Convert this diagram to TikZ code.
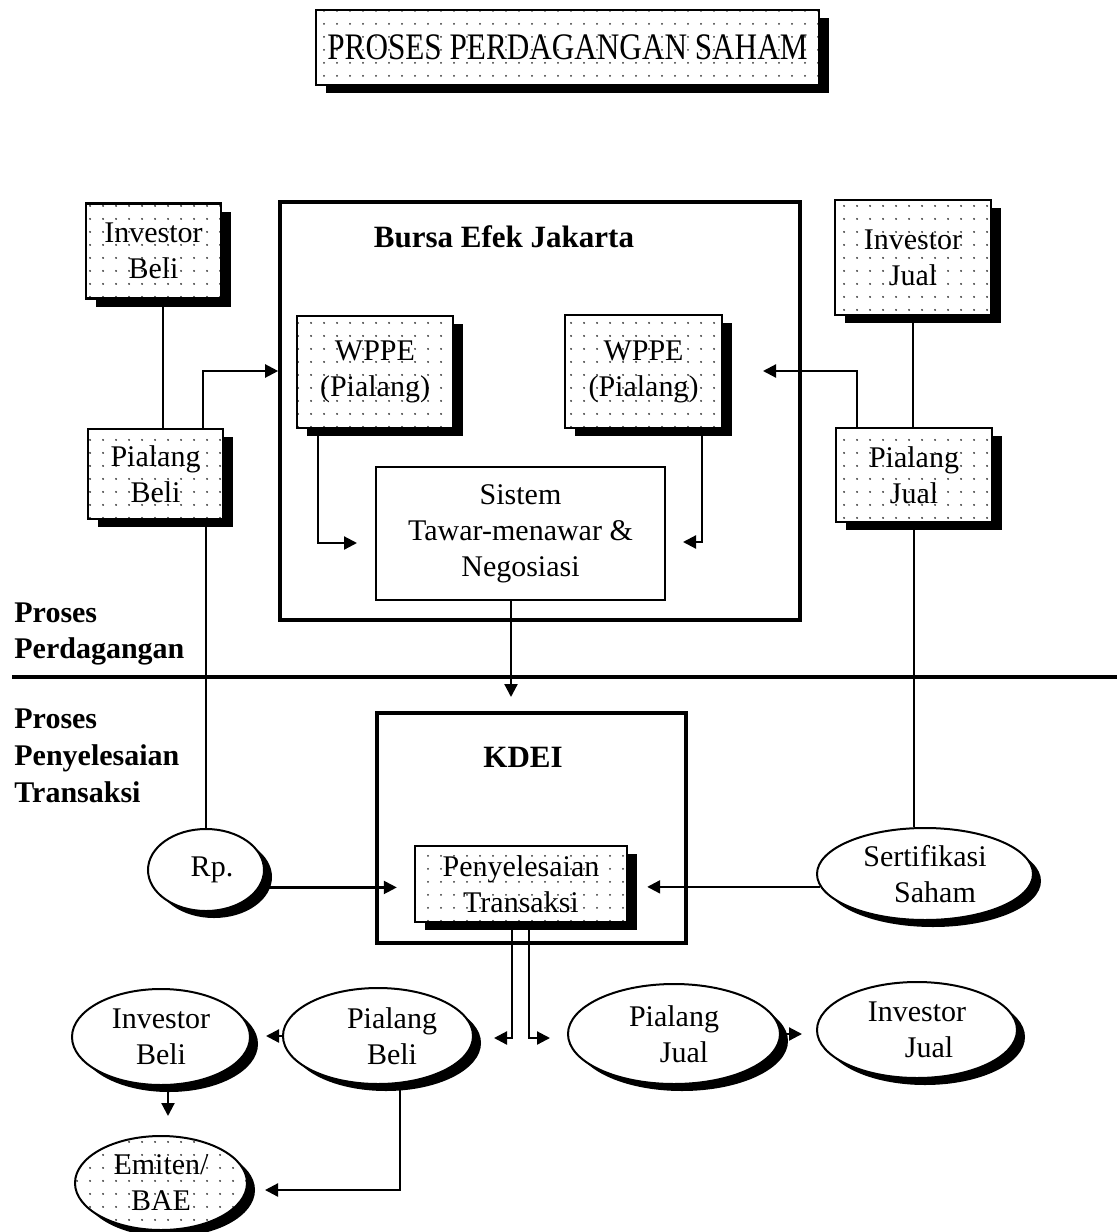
\documentclass[tikz,border=0pt]{standalone}
\usepackage{fontspec}
\setmainfont{Liberation Serif}
\usetikzlibrary{shapes.geometric,arrows.meta,patterns.meta,shadows}
\begin{document}
\begin{tikzpicture}[x=0.5pt,y=-0.5pt,
  txt/.style={font=\fontsize{15}{18}\selectfont, align=center, text=black},
  boldtxt/.style={font=\bfseries\fontsize{15}{18}\selectfont, text=black, inner sep=0pt},
  dotbox/.style={txt, rectangle, draw, line width=1.2pt, inner sep=0pt,
     drop shadow={shadow xshift=5pt, shadow yshift=-4pt, fill=black, opacity=1},
     preaction={fill=white}, pattern={Dots[distance=6.5pt,radius=0.55pt]}, pattern color=black!80},
  bigbox/.style={rectangle, draw, line width=1.8pt, inner sep=0pt},
  plainbox/.style={txt, rectangle, draw, line width=1pt, inner sep=0pt, fill=white},
  ell/.style={txt, ellipse, draw, line width=1pt, inner sep=0pt,
     drop shadow={shadow xshift=4pt, shadow yshift=-3.5pt, fill=black, opacity=1},
     fill=white},
  dotell/.style={txt, ellipse, draw, line width=1pt, inner sep=0pt,
     drop shadow={shadow xshift=4pt, shadow yshift=-3.5pt, fill=black, opacity=1},
     preaction={fill=white}, pattern={Dots[distance=6.5pt,radius=0.55pt]}, pattern color=black!80},
  conn/.style={line width=1.1pt},
  arr/.style={line width=1.1pt, -{Triangle[length=6.5pt,width=6.5pt]}}
]
\fill[white] (0,0) rectangle (1117,1232);
\useasboundingbox (0,0) rectangle (1117,1232);

% title
\node[dotbox, minimum width=251.5pt, minimum height=37.5pt, font=\fontsize{15.6}{18}\selectfont] (title) at (567.5,47.5) {\raisebox{-1pt}{\scalebox{1}[1.2]{PROSES PERDAGANGAN SAHAM}}};

% big frames
\node[bigbox, minimum width=260pt, minimum height=209pt] (bej) at (540,411) {};
\node[boldtxt, font=\bfseries\fontsize{15.5}{18}\selectfont] (bejlbl) at (504,237) {Bursa Efek Jakarta};
\node[bigbox, minimum width=154.5pt, minimum height=115pt] (kdei) at (531.5,828) {};
\node[boldtxt, font=\bfseries\fontsize{15.5}{18}\selectfont] (kdeilbl) at (523,757) {KDEI};

% separator
\draw[line width=1.7pt] (12,677) -- (1117,677);

% left labels
\node[boldtxt, anchor=base west] (l1) at (14,622) {Proses};
\node[boldtxt, anchor=base west] (l2) at (14,658) {Perdagangan};
\node[boldtxt, anchor=base west] (l3) at (14,728) {Proses};
\node[boldtxt, anchor=base west] (l4) at (14,765) {Penyelesaian};
\node[boldtxt, anchor=base west] (l5) at (14,802) {Transaksi};

% dotted boxes
\node[dotbox, minimum width=67.5pt, minimum height=47.5pt] (invBt) at (153.5,251) {Investor\\Beli};
\node[dotbox, minimum width=67.5pt, minimum height=45pt] (pialBt) at (155.5,474) {Pialang\\Beli};
\node[dotbox, minimum width=78pt, minimum height=57.5pt] (invJt) at (913,257.5) {Investor\\Jual};
\node[dotbox, minimum width=78pt, minimum height=47pt] (pialJt) at (914,475) {Pialang\\Jual};
\node[dotbox, minimum width=78pt, minimum height=56pt] (wppeL) at (375,372) {WPPE\\(Pialang)};
\node[dotbox, minimum width=78.5pt, minimum height=56.5pt] (wppeR) at (643.5,371.5) {WPPE\\(Pialang)};
\node[plainbox, minimum width=144.5pt, minimum height=66.5pt] (sistem) at (520.5,533.5) {Sistem\\Tawar-menawar \&\\Negosiasi};
\node[dotbox, minimum width=106pt, minimum height=38pt] (pen) at (521,884) {Penyelesaian\\Transaksi};

% ellipses
\node[ell, minimum width=58pt, minimum height=41pt] (rp) at (206,870) {\hspace*{6pt}Rp.};
\node[ell, minimum width=108pt, minimum height=46pt] (sert) at (925,874) {Sertifikasi\\\hspace*{10pt}Saham};
\node[ell, minimum width=95pt, minimum height=48pt] (pbE) at (378,1036) {\hspace*{14pt}Pialang\\\hspace*{14pt}Beli};
\node[ell, minimum width=89pt, minimum height=48pt] (ibE) at (161,1037) {Investor\\Beli};
\node[ell, minimum width=106pt, minimum height=50pt] (pjE) at (674,1034) {Pialang\\\hspace*{10pt}Jual};
\node[ell, minimum width=100pt, minimum height=48pt] (ijE) at (917,1030) {Investor\\\hspace*{12pt}Jual};
\node[dotell, minimum width=86pt, minimum height=47pt] (emE) at (161,1183) {Emiten/\\BAE};

% helper coordinates
\coordinate (cF) at (163,0);
\coordinate (cA) at (203,371);
\coordinate (cB) at (857,371);
\coordinate (tB) at (763,371);
\coordinate (cC) at (318,543);
\coordinate (tC) at (357,543);
\coordinate (cD) at (702,542);
\coordinate (tD) at (683,542);
\coordinate (cE) at (511,697);
\coordinate (cG1) at (512,1038);
\coordinate (tG1) at (494,1038);
\coordinate (cG2) at (529,1038);
\coordinate (tG2) at (550,1038);
\coordinate (cH) at (168,1116);
\coordinate (cI) at (400,1190);
\coordinate (tI) at (265,1190);

% connectors
\draw[conn] (invBt.south -| cF) -- (pialBt.north -| cF);
\draw[arr] (pialBt.north -| cA) |- (bej.west |- cA);
\draw[conn] (invJt.south) -- (invJt.south |- pialJt.north);
\draw[arr] (pialJt.north -| cB) |- (tB);
\draw[arr] (wppeL.south -| cC) |- (tC);
\draw[arr] (wppeR.south -| cD) |- (tD);
\draw[arr] (sistem.south -| cE) -- (cE);
\draw[conn] (pialBt.south -| rp.north) -- (rp.north);
\draw[conn] (pialJt.south) -- (pialJt.south |- sert.north);
\draw[arr, shorten >=8.5pt] (rp.-18) -- (rp.-18 -| pen.west);
\draw[arr, shorten >=9.5pt] (sert.187) -- (sert.187 -| pen.east);
\draw[arr] (pen.south -| cG1) |- (tG1);
\draw[arr] (pen.south -| cG2) |- (tG2);
\draw[arr, shorten >=7.5pt] (pbE.west) -- (pbE.west -| ibE.east);
\draw[arr] (ibE.south -| cH) -- (cH);
\draw[arr] (pbE.south -| cI) |- (tI);
\draw[arr, shorten >=7pt] (pjE.east) -- (pjE.east -| ijE.west);
\end{tikzpicture}
\end{document}
